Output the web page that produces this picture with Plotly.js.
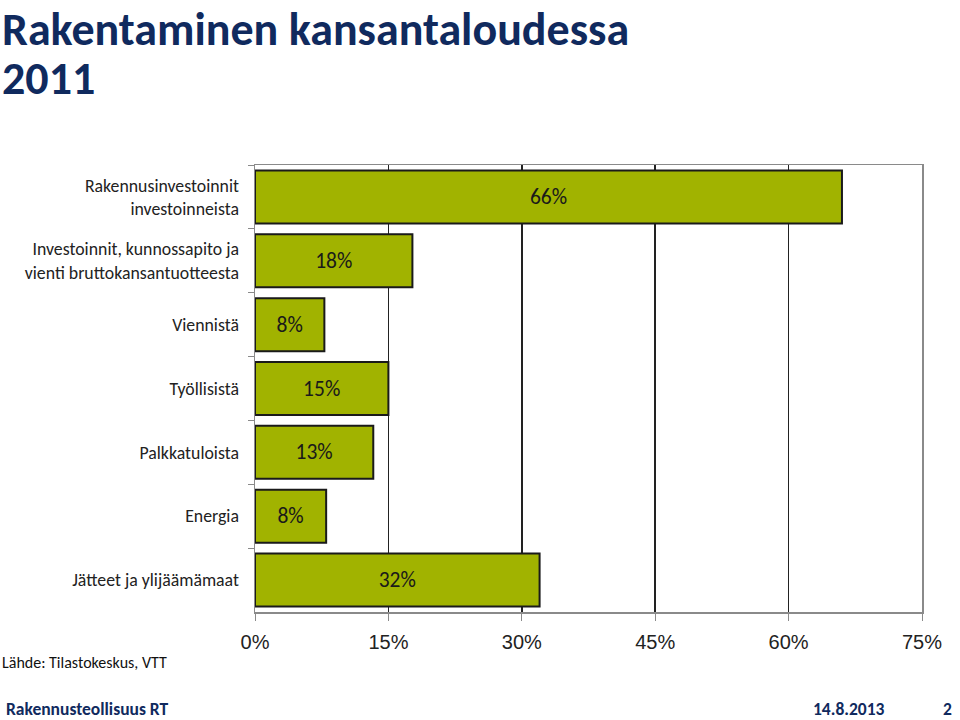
<!DOCTYPE html>
<html><head><meta charset="utf-8">
<script src="https://cdn.plot.ly/plotly-3.0.1.min.js"></script>
<style>html,body{margin:0;padding:0;background:#fff}#chart{width:960px;height:720px}</style>
</head><body><div id="chart"></div>
<script>
const categories = [
  "Rakennusinvestoinnit<br>investoinneista",
  "Investoinnit, kunnossapito ja<br>vienti bruttokansantuotteesta",
  "Viennistä",
  "Työllisistä",
  "Palkkatuloista",
  "Energia",
  "Jätteet ja ylijäämämaat"
];
const values = [66, 17.7, 7.8, 15, 13.3, 8, 32];
const valueLabels = ["66%", "18%", "8%", "15%", "13%", "8%", "32%"];
const tickValues = [0, 15, 30, 45, 60, 75];
const tickLabels = ["0%", "15%", "30%", "45%", "60%", "75%"];
const titleLines = ["Rakentaminen kansantaloudessa", "2011"];

const navy = "#102a5e";
const cal = "Carlito, 'Open Sans', sans-serif";
const trace = {
  type: "bar", orientation: "h",
  x: values, y: categories,
  text: valueLabels, textposition: "inside", insidetextanchor: "middle",
  textangle: 0,
  textfont: {family: cal, size: 21.5, color: "#1a1a1a"},
  marker: {color: "#a1b300", line: {color: "#1a1a1a", width: 2}},
  hoverinfo: "skip"
};
const PH = 447, PW = 667;
function py(p) { return (612 - p) / PH; }
function px(p) { return (p - 255) / PW; }
const layout = {
  width: 960, height: 720,
  margin: {l: 255, r: 38, t: 165, b: 108},
  paper_bgcolor: "#fff", plot_bgcolor: "#fff",
  bargap: 0.17,
  showlegend: false,
  xaxis: {
    range: [0, 75], tickvals: tickValues, ticktext: tickLabels,
    showgrid: true, gridcolor: "#222", gridwidth: 1.5, zeroline: false,
    showline: true, linecolor: "#8a8a8a", linewidth: 1.5, mirror: true,
    ticks: "outside", ticklen: 7, tickcolor: "#8a8a8a",
    ticklabelstandoff: 4,
    tickfont: {family: "'Liberation Sans', Arial, sans-serif", size: 20, color: "#222"},
    fixedrange: true
  },
  yaxis: {
    autorange: "reversed", type: "category",
    showline: true, linecolor: "#8a8a8a", linewidth: 1.5, mirror: true,
    ticks: "outside", tickson: "boundaries", ticklen: 6, tickcolor: "#8a8a8a",
    ticklabelstandoff: 11,
    tickfont: {family: cal, size: 17.8, color: "#222"},
    showgrid: false, fixedrange: true
  },
  annotations: [
    {text: "<b>" + titleLines[0] + "</b>", xref: "paper", yref: "paper", x: px(0), y: py(29),
     xanchor: "left", yanchor: "middle", showarrow: false, height: 46, valign: "middle",
     font: {family: cal, size: 46, color: navy}},
    {text: "<b>" + titleLines[1] + "</b>", xref: "paper", yref: "paper", x: px(0), y: py(78),
     xanchor: "left", yanchor: "middle", showarrow: false, height: 46, valign: "middle",
     font: {family: cal, size: 46, color: navy}},
    {text: "Lähde: Tilastokeskus, VTT", xref: "paper", yref: "paper", x: px(0), y: py(662),
     xanchor: "left", yanchor: "middle", showarrow: false,
     font: {family: cal, size: 16, color: "#111"}},
    {text: "<b>Rakennusteollisuus RT</b>", xref: "paper", yref: "paper", x: px(4), y: py(709),
     xanchor: "left", yanchor: "middle", showarrow: false,
     font: {family: cal, size: 17.5, color: navy}},
    {text: "<b>14.8.2013</b>", xref: "paper", yref: "paper", x: px(849), y: py(709),
     xanchor: "center", yanchor: "middle", showarrow: false,
     font: {family: cal, size: 17.5, color: navy}},
    {text: "<b>2</b>", xref: "paper", yref: "paper", x: px(947), y: py(709),
     xanchor: "center", yanchor: "middle", showarrow: false,
     font: {family: cal, size: 17.5, color: navy}}
  ]
};
Plotly.newPlot("chart", [trace], layout, {displayModeBar: false, staticPlot: true});
</script></body></html>
